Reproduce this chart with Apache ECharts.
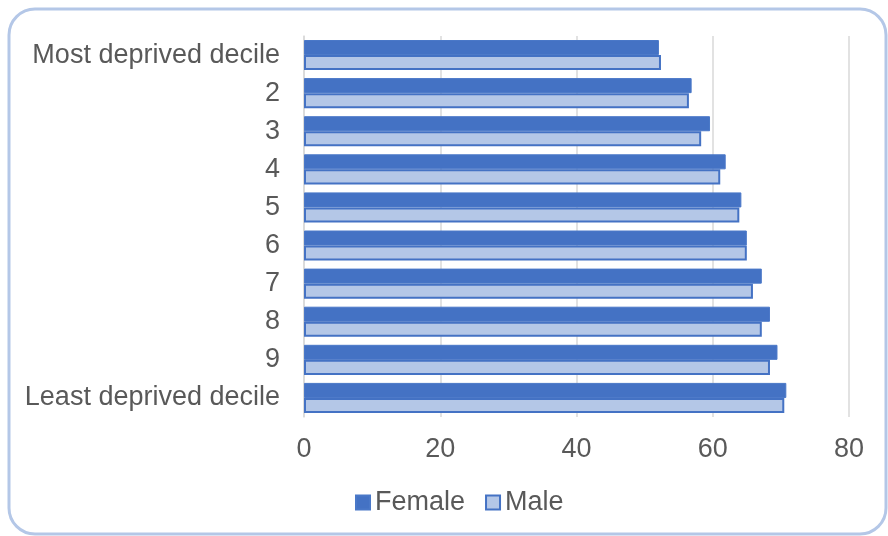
<!DOCTYPE html>
<html>
<head>
<meta charset="utf-8">
<script src="https://cdn.jsdelivr.net/npm/echarts@6/dist/echarts.min.js"></script>
<style>
html,body{margin:0;padding:0;background:#fff;}
#c{width:888px;height:536px;}
</style>
</head>
<body>
<div id="c"></div>
<script>
const categories = ['Most deprived decile','2','3','4','5','6','7','8','9','Least deprived decile'];
const femaleValues = [52.1, 56.9, 59.6, 61.9, 64.2, 65.0, 67.2, 68.4, 69.5, 70.8];
const maleValues = [52.4, 56.5, 58.3, 61.1, 63.9, 65.0, 65.9, 67.2, 68.4, 70.5];
const xTicks = [0, 20, 40, 60, 80];

const chart = echarts.init(document.getElementById('c'), null, {renderer: 'canvas'});
const font = '"Liberation Sans", Arial, sans-serif';
chart.setOption({
  animation: false,
  textStyle: {fontFamily: font},
  graphic: [{
    type: 'rect',
    shape: {x: 9, y: 9, width: 877, height: 525, r: 26},
    style: {fill: 'none', stroke: '#B4C7E7', lineWidth: 3},
    z: -1
  }],
  grid: {left: 304, right: 39, top: 36, bottom: 119, containLabel: false},
  legend: {
    data: ['Female', 'Male'],
    left: 350,
    top: 484,
    icon: 'rect',
    itemWidth: 14,
    itemHeight: 14,
    itemGap: 20,
    textStyle: {color: '#595959', fontSize: 27, fontFamily: font}
  },
  xAxis: {
    type: 'value',
    min: xTicks[0],
    max: xTicks[xTicks.length - 1],
    interval: 20,
    axisLine: {show: false},
    axisTick: {show: false},
    splitLine: {lineStyle: {color: '#D9D9D9', width: 1.5}},
    axisLabel: {color: '#595959', fontSize: 27, margin: 19, fontFamily: font}
  },
  yAxis: {
    type: 'category',
    data: categories,
    inverse: true,
    axisLine: {lineStyle: {color: '#D9D9D9', width: 1.5}},
    axisTick: {show: false},
    axisLabel: {color: '#595959', fontSize: 27, margin: 24, fontFamily: font}
  },
  series: [
    {
      name: 'Female', type: 'bar', data: femaleValues,
      barGap: '0%', barCategoryGap: '21%',
      itemStyle: {color: '#4472C4', borderColor: '#4A78C8', borderWidth: 1}
    },
    {
      name: 'Male', type: 'bar', data: maleValues,
      barGap: '0%', barCategoryGap: '21%',
      itemStyle: {color: '#B4C7E7', borderColor: '#4472C4', borderWidth: 2}
    }
  ]
});
</script>
</body>
</html>
